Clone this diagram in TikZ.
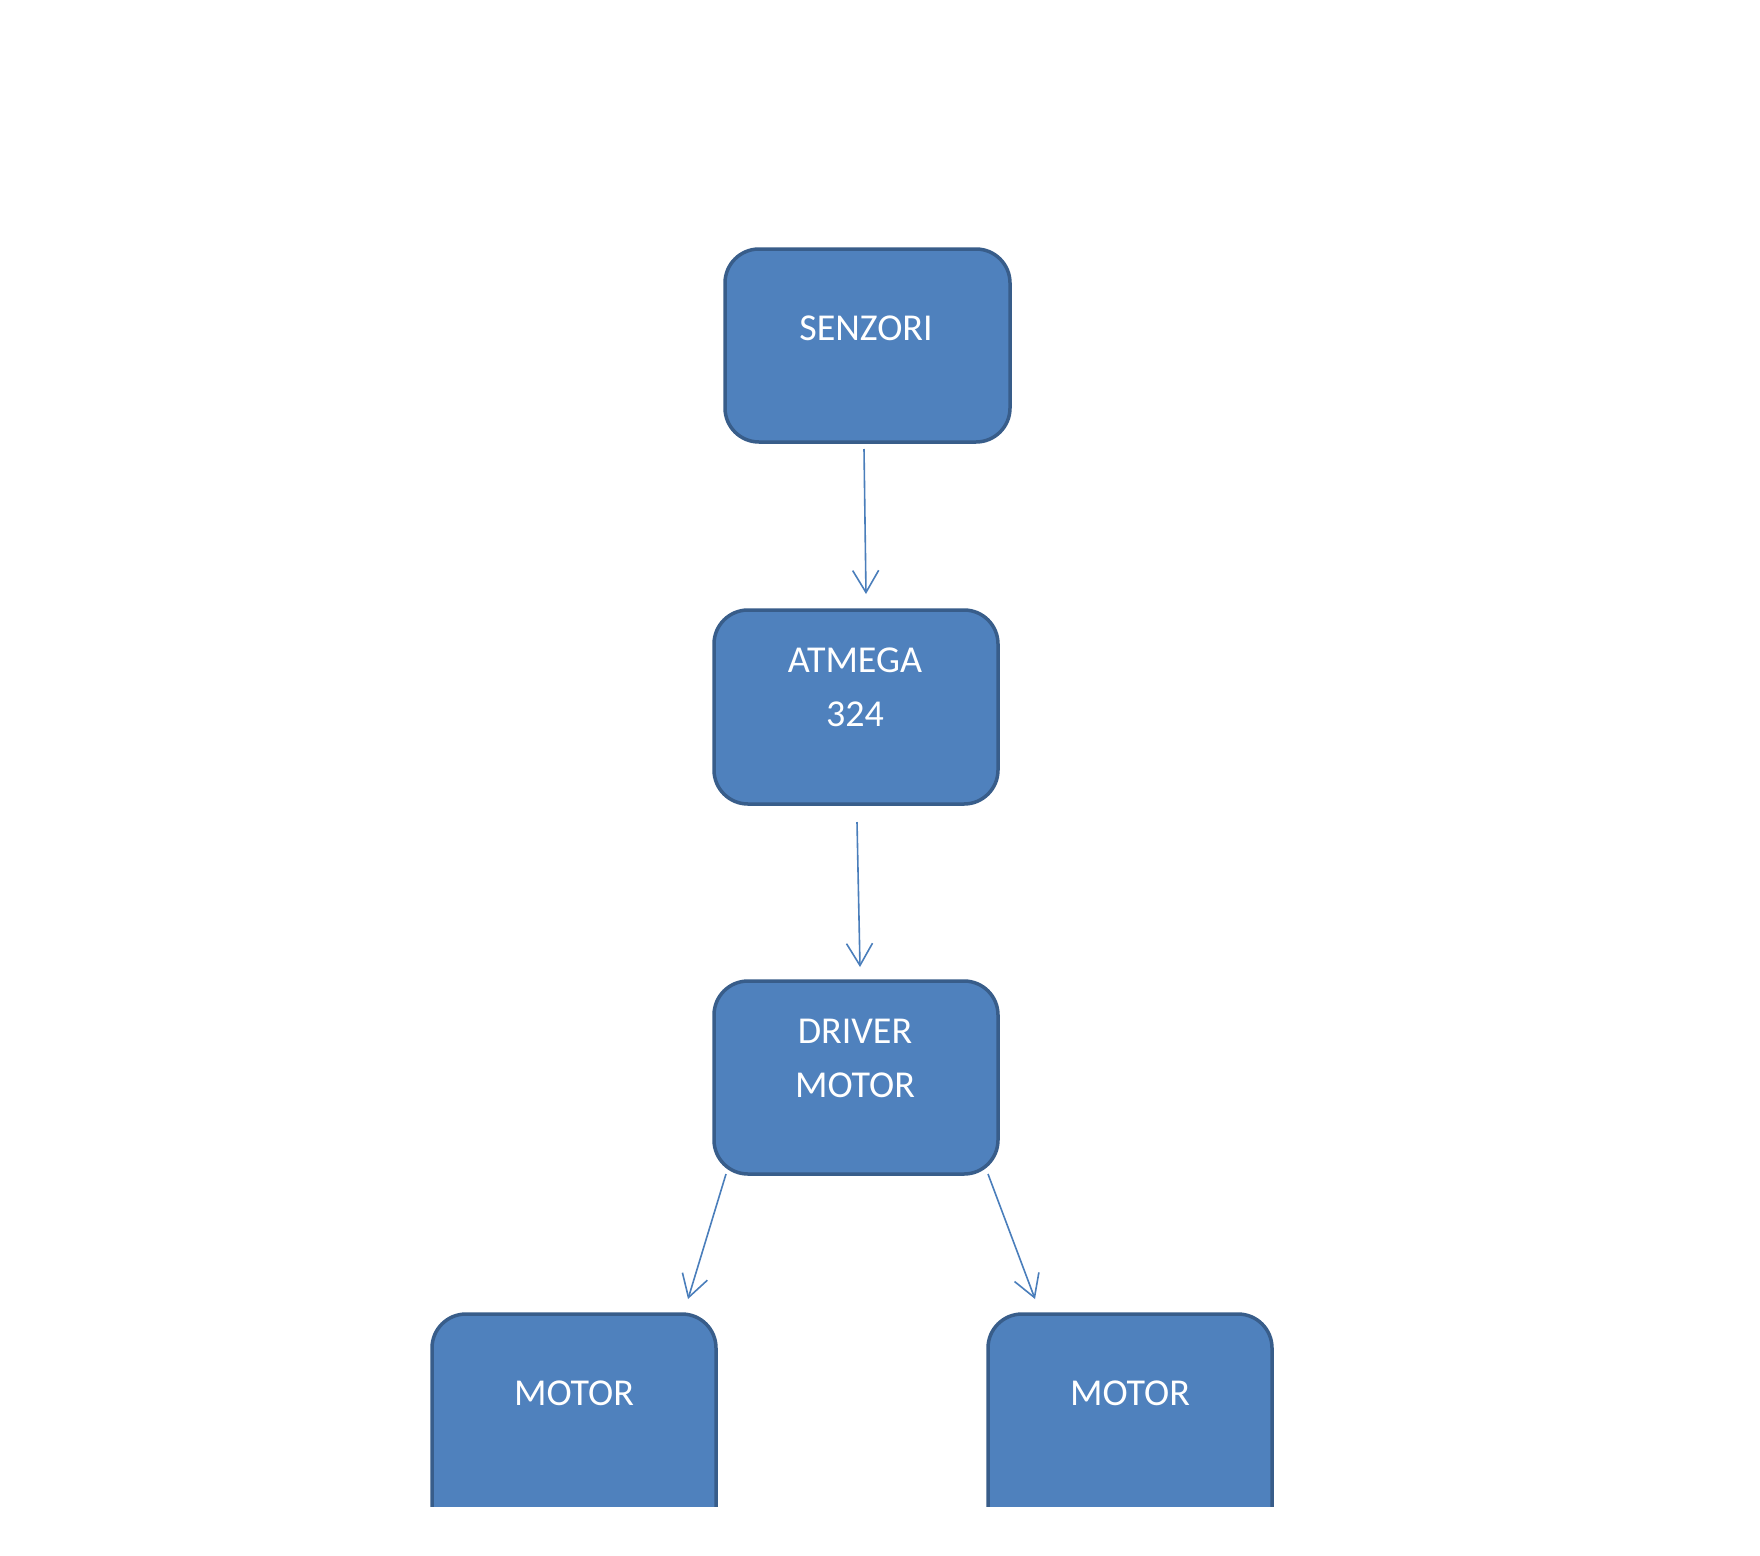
\documentclass[tikz,border=0pt]{standalone}
\usepackage{fontspec}
\setmainfont{Carlito}
\usetikzlibrary{arrows.meta}
\definecolor{boxfill}{HTML}{4F81BD}
\definecolor{boxline}{HTML}{385D8A}
\definecolor{arr}{HTML}{4A7EBB}
\begin{document}
\begin{tikzpicture}[x=1pt,y=-1pt,
  blk/.style={draw=boxline,fill=boxfill,line width=3.5pt,rounded corners=34pt},
  lbl/.style={text=white,font=\fontsize{38}{54}\selectfont,align=center,inner sep=0pt},
  conn/.style={draw=arr,line width=1.6pt,-{Straight Barb[length=22pt,width=26pt,line width=1.6pt]}}]
\useasboundingbox (0,0) rectangle (1760,1555);
\fill[white] (0,0) rectangle (1760,1555);
\draw[blk] (725,249) rectangle (1010,442);
\draw[blk] (714,610) rectangle (998,804);
\draw[blk] (714,981) rectangle (998,1174);
\begin{scope}
\clip (0,0) rectangle (1760,1506);
\draw[blk] (432,1314) rectangle (716,1560);
\draw[blk] (988,1314) rectangle (1272,1560);
\end{scope}
\node[lbl] (t1) at (866,328) {SENZORI};
\node[lbl] (t2) at (855,687) {ATMEGA\\324};
\node[lbl] (t3) at (855,1058) {DRIVER\\MOTOR};
\node[lbl] (t4) at (574,1393) {MOTOR};
\node[lbl] (t5) at (1130,1393) {MOTOR};
\coordinate (a1) at (864,449); \coordinate (b1) at (866,594);
\coordinate (a2) at (857,822); \coordinate (b2) at (860,967);
\coordinate (a3) at (726,1174); \coordinate (b3) at (688,1299);
\coordinate (a4) at (988,1174); \coordinate (b4) at (1035,1299);
\draw[conn] (a1) -- (b1);
\draw[conn] (a2) -- (b2);
\draw[conn] (a3) -- (b3);
\draw[conn] (a4) -- (b4);
\end{tikzpicture}
\end{document}
